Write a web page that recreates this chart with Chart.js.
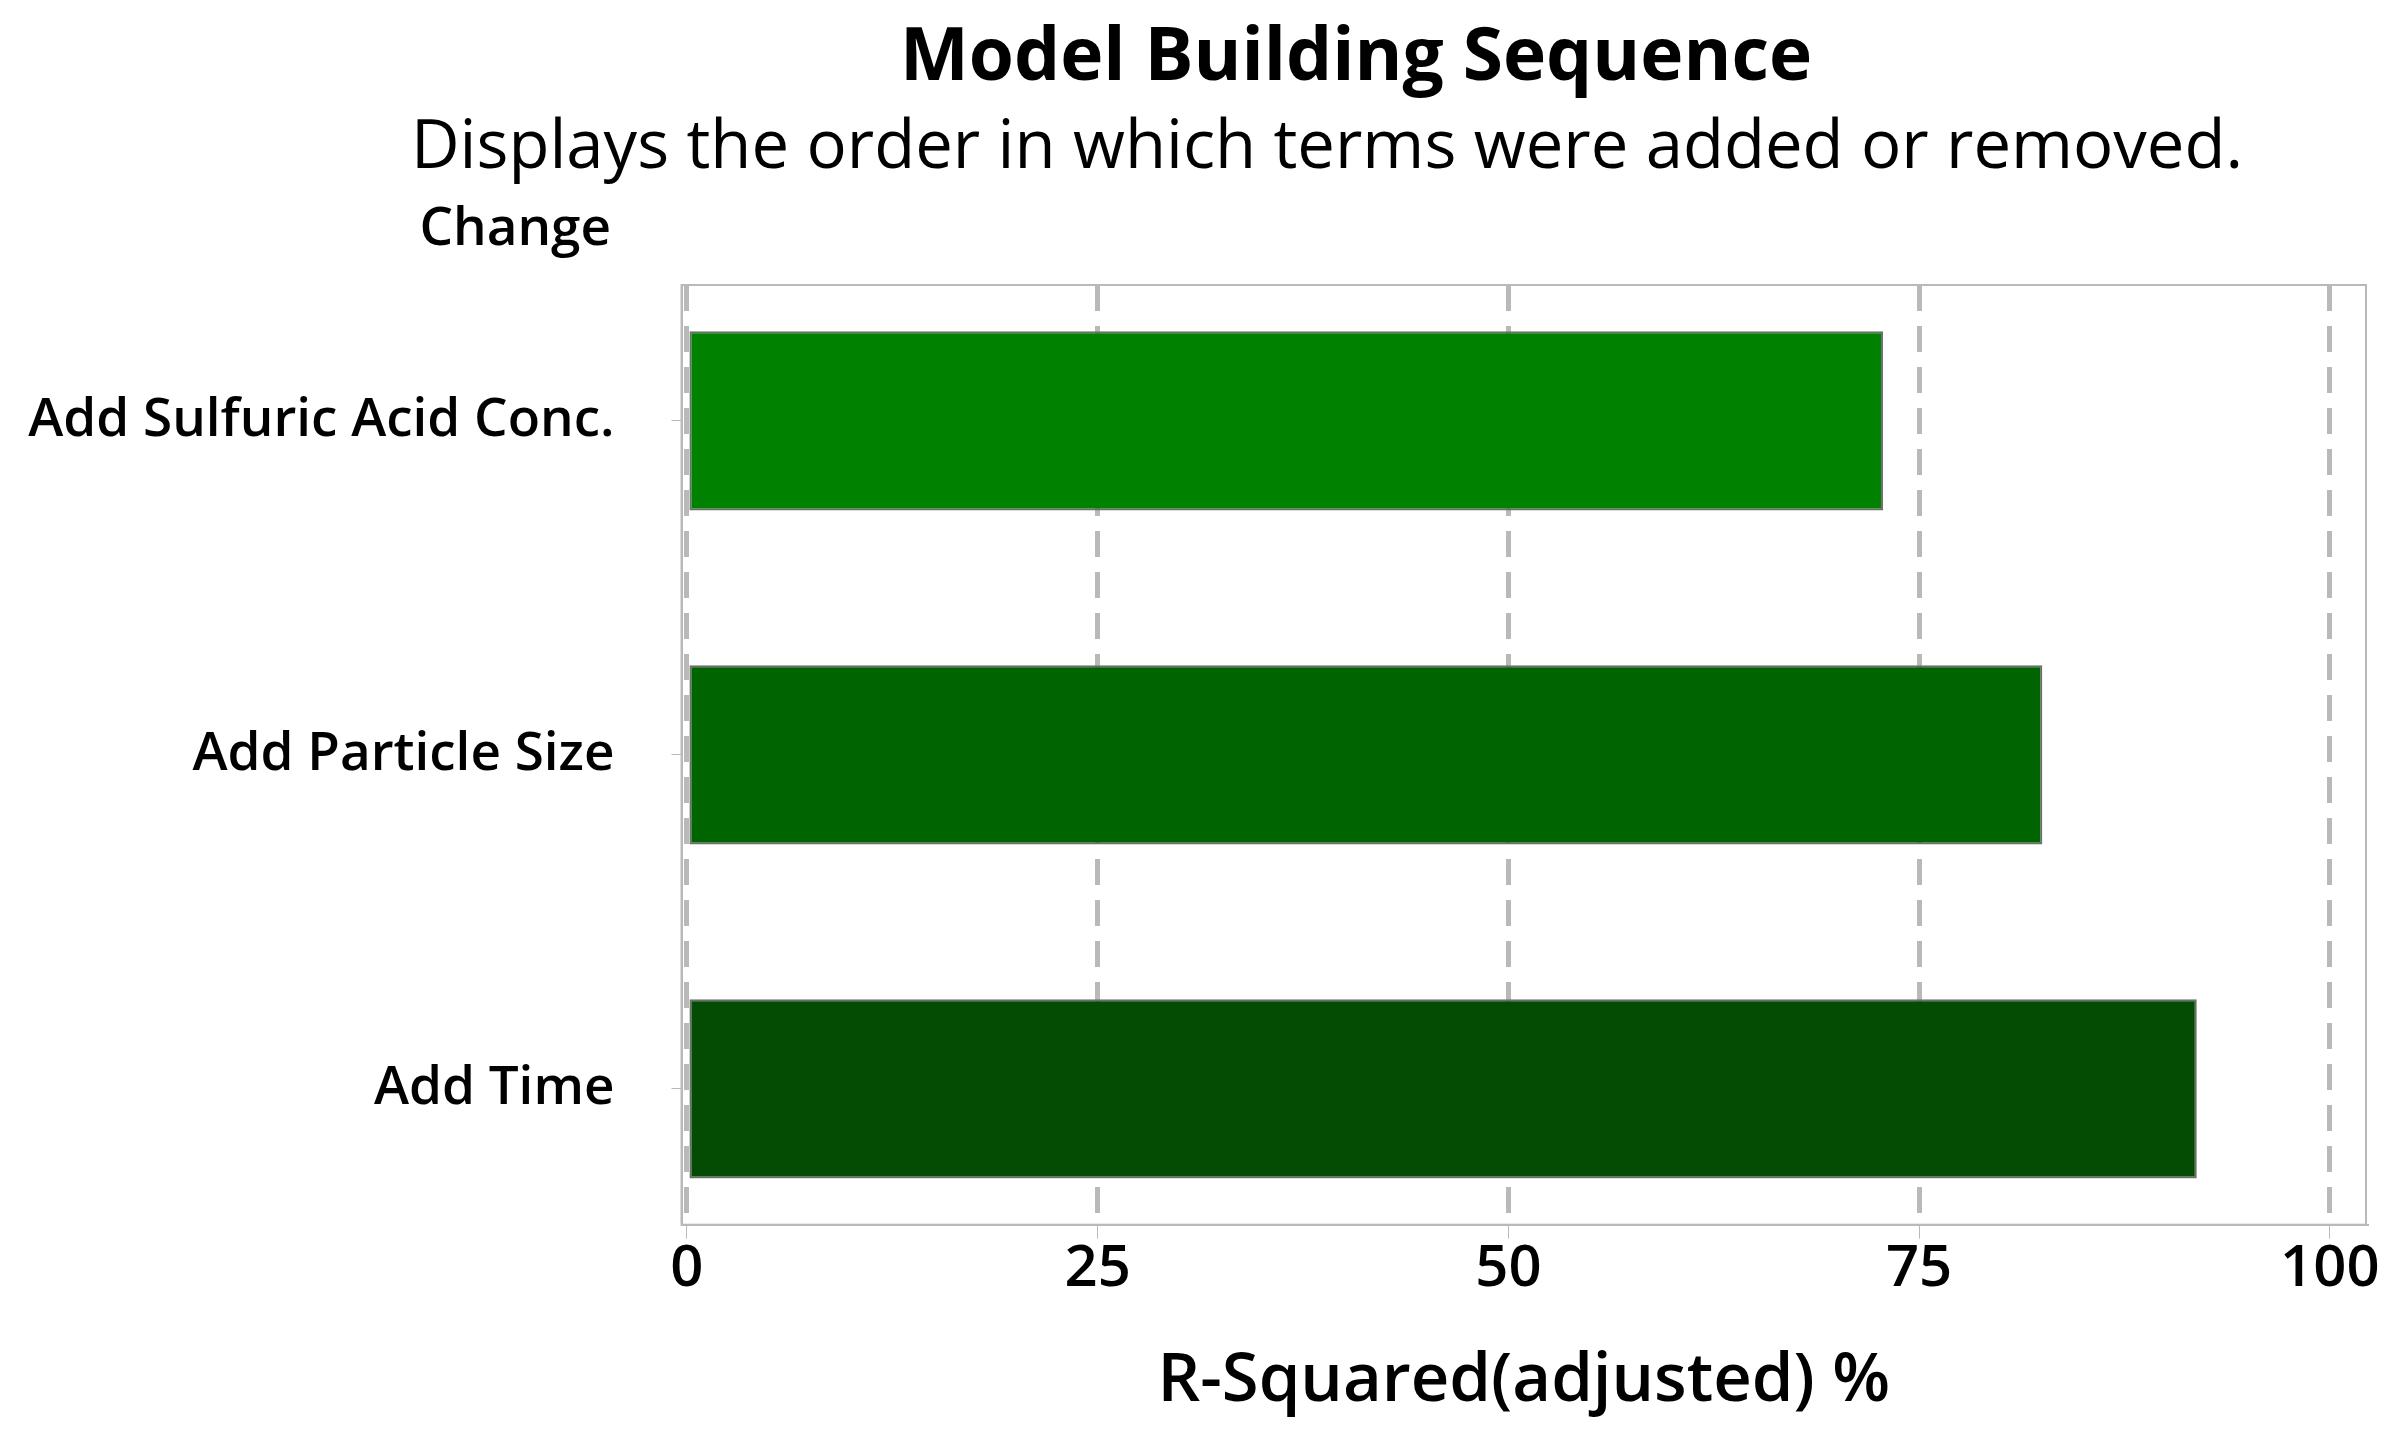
<!DOCTYPE html>
<html>
<head>
<meta charset="utf-8">
<script src="https://cdn.jsdelivr.net/npm/chart.js@4.4.0/dist/chart.umd.min.js"></script>
<style>
  html, body { margin: 0; padding: 0; background: #fff; }
  canvas { display: block; }
</style>
</head>
<body>
<canvas id="seq-chart" width="2390" height="1434"></canvas>
<script>
// values
const changes = ['Add Sulfuric Acid Conc.', 'Add Particle Size', 'Add Time'];
const rsqAdj = [72.8, 82.5, 91.9];
const barColors = ['#008200', '#006400', '#044c04'];
const xTicks = [0, 25, 50, 75, 100];

const FONT = "'Open Sans', 'DejaVu Sans', sans-serif";
const GRID = '#b9b9b9';

// title, subtitle and the "Change" header above the labels
const headerText = {
  id: 'headerText',
  afterDraw(chart) {
    const ctx = chart.ctx;
    ctx.save();
    ctx.fillStyle = '#000';
    ctx.textBaseline = 'alphabetic';
    ctx.textAlign = 'center';
    ctx.font = 'bold 73px ' + FONT;
    ctx.fillText('Model Building Sequence', 1356, 80);
    ctx.font = '400 67px ' + FONT;
    ctx.fillText('Displays the order in which terms were added or removed.', 1327, 168);
    ctx.textAlign = 'right';
    ctx.font = '600 53px ' + FONT;
    ctx.fillText('Change', 611, 245);
    ctx.restore();
  }
};

// light frame round the plot area
const plotFrame = {
  id: 'plotFrame',
  beforeDatasetsDraw(chart) {
    const a = chart.chartArea;
    const ctx = chart.ctx;
    ctx.save();
    ctx.strokeStyle = GRID;
    ctx.lineWidth = 2;
    ctx.strokeRect(a.left, a.top, a.right - a.left, a.bottom - a.top);
    ctx.restore();
  }
};

const points = rsqAdj.map((v, i) => ({ x: v, y: i }));

new Chart(document.getElementById('seq-chart'), {
  type: 'bar',
  data: {
    datasets: [{
      data: points,
      backgroundColor: barColors,
      borderColor: '#6e6e6e',
      borderWidth: 2,
      borderSkipped: false,
      categoryPercentage: 1,
      barPercentage: 0.537
    }]
  },
  options: {
    indexAxis: 'y',
    responsive: false,
    animation: false,
    layout: { padding: { top: 285, left: 0, right: 24, bottom: 0 } },
    plugins: {
      legend: { display: false },
      tooltip: { enabled: false }
    },
    scales: {
      x: {
        type: 'linear',
        position: 'bottom',
        min: -0.33,
        max: 102.2,
        afterBuildTicks: (scale) => { scale.ticks = xTicks.map(v => ({ value: v })); },
        afterFit: (scale) => {
          scale.height = 209.3;
          scale.paddingLeft = 0;
          scale.paddingRight = 0;
        },
        grid: {
          color: GRID,
          lineWidth: 5,
          drawTicks: true,
          tickLength: 14,
          tickWidth: 1,
          tickColor: GRID,
          tickBorderDash: []
        },
        border: { display: true, color: GRID, width: 2, dash: [26, 15] },
        ticks: {
          color: '#000',
          padding: -4,
          font: { family: FONT, size: 58, weight: '600' }
        },
        title: {
          display: true,
          text: 'R-Squared(adjusted) %',
          color: '#000',
          padding: { top: 10, bottom: 12 },
          font: { family: FONT, size: 67, weight: '600' }
        }
      },
      y: {
        type: 'linear',
        reverse: true,
        offset: false,
        min: -0.407,
        max: 2.407,
        afterBuildTicks: (scale) => { scale.ticks = changes.map((c, i) => ({ value: i })); },
        afterFit: (scale) => { scale.width = 681.5; },
        grid: {
          offset: false,
          drawOnChartArea: false,
          drawTicks: true,
          tickLength: 10,
          color: GRID,
          lineWidth: 1
        },
        border: { display: true, color: GRID, width: 2 },
        ticks: {
          color: '#000',
          padding: 57,
          font: { family: FONT, size: 53, weight: '600' },
          callback: (v) => changes[v]
        }
      }
    }
  },
  plugins: [headerText, plotFrame]
});
</script>
</body>
</html>
